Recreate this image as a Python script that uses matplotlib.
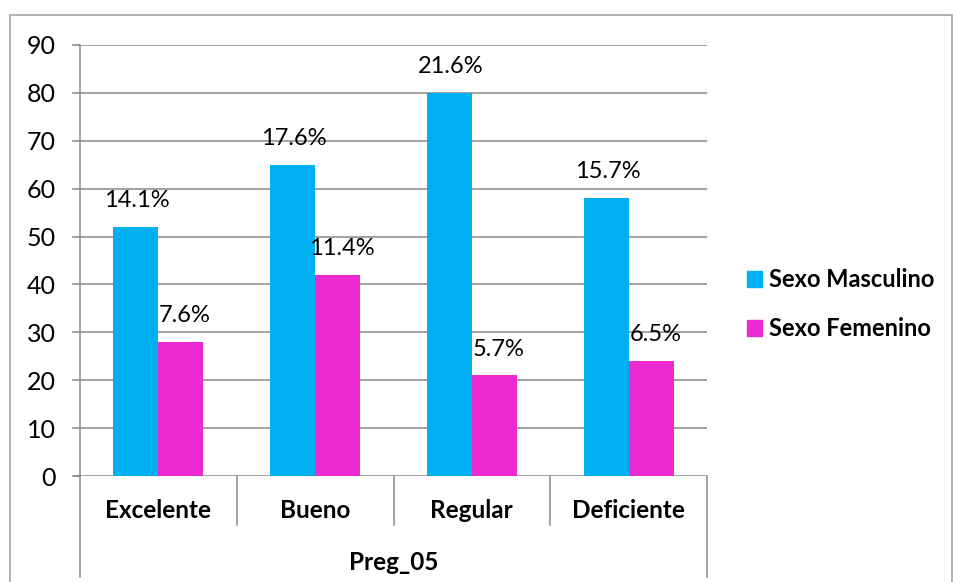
import numpy as np
import matplotlib.pyplot as plt
from matplotlib.patches import Rectangle, Patch

categories = ['Excelente', 'Bueno', 'Regular', 'Deficiente']
masculino = [52, 65, 80, 58]
femenino = [28, 42, 21, 24]
pct_masculino = ['14.1%', '17.6%', '21.6%', '15.7%']
pct_femenino = ['7.6%', '11.4%', '5.7%', '6.5%']
series_names = ['Sexo Masculino', 'Sexo Femenino']
axis_title = 'Preg_05'

plt.rcParams['font.family'] = ['Lato', 'DejaVu Sans']

W, H = 957, 582
fig = plt.figure(figsize=(W/100, H/100), dpi=100)

# outer chart border
fig.patches.append(Rectangle((10/W, -0.02), 942/W, (H-15)/H + 0.02,
                             transform=fig.transFigure, fill=False,
                             edgecolor='#a6a6a6', linewidth=1.2))

ax_h = 431
ax = fig.add_axes([80/W, 106/H, 627/W, ax_h/H])
c_m = '#00B0F0'
c_f = '#EC2AD2'
grid_c = '#888888'

x = np.arange(len(categories))
bw = 0.287
ax.bar(x - bw/2, masculino, bw, color=c_m, zorder=2)
ax.bar(x + bw/2, femenino, bw, color=c_f, zorder=2)

for xi, v, t in zip(x - bw/2, masculino, pct_masculino):
    ax.annotate(t, (xi, v), xytext=(1, 19), textcoords='offset points',
                ha='center', va='center', fontsize=17)
for xi, v, t in zip(x + bw/2, femenino, pct_femenino):
    ax.annotate(t, (xi, v), xytext=(3, 19), textcoords='offset points',
                ha='center', va='center', fontsize=17)

ax.set_xlim(-0.5, len(categories) - 0.5)
ax.set_ylim(0, 90)
ax.set_yticks(range(0, 91, 10))
ax.yaxis.grid(True, color=grid_c, linewidth=1.1, zorder=0)
ax.set_axisbelow(True)
ax.tick_params(axis='y', length=5.5, color=grid_c, width=1.1, labelsize=18, pad=12)
ax.set_xticks([])
for s in ['top', 'right', 'bottom']:
    ax.spines[s].set_visible(False)
ax.spines['left'].set_color(grid_c)
ax.spines['left'].set_linewidth(1.1)

# category separators and labels under the axis
row1 = -49 / ax_h
row2 = -101 / ax_h
trans = ax.get_xaxis_transform()
for b in np.arange(-0.5, len(categories), 1.0):
    bottom = row2 if b in (-0.5, len(categories) - 0.5) else row1
    ax.plot([b, b], [0, bottom], transform=trans, color=grid_c,
            linewidth=1.1, clip_on=False)
ax.plot([-0.5, -0.53], [0, 0], transform=trans, color=grid_c,
        linewidth=1.1, clip_on=False)
for xi, c in zip(x, categories):
    ax.text(xi, -34 / ax_h, c, transform=trans, ha='center', va='center',
            fontsize=17.5, fontweight='bold')
ax.text((len(categories) - 1) / 2, -87 / ax_h, axis_title, transform=trans,
        ha='center', va='center', fontsize=17.5, fontweight='bold')

handles = [Patch(color=c_m), Patch(color=c_f)]
fig.legend(handles, series_names, loc='upper left',
           bbox_to_anchor=(726/W, 1 - 247/H), frameon=False,
           handlelength=0.62, handleheight=0.62, handletextpad=0.3,
           labelspacing=1.1, prop={'size': 17, 'weight': 'bold'})

fig.savefig('out.png', dpi=100)
